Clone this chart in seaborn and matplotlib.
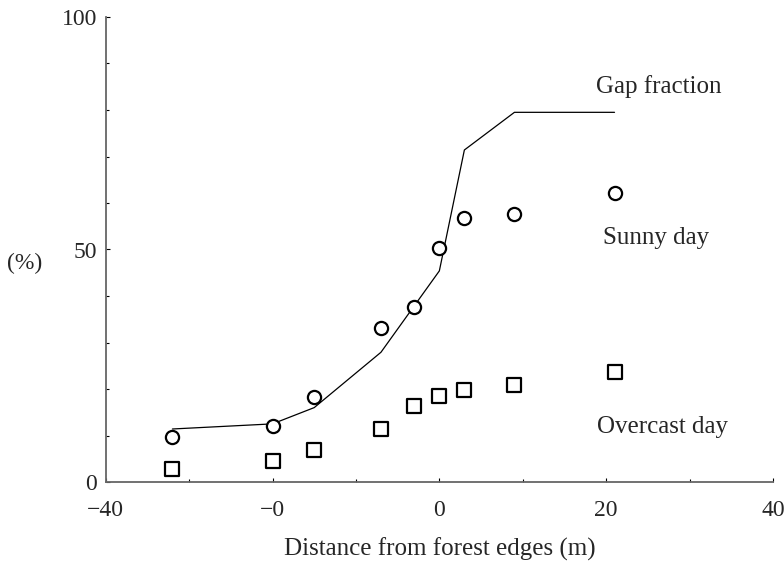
import matplotlib
matplotlib.use("Agg")
import matplotlib.pyplot as plt
import seaborn as sns
import pandas as pd
from matplotlib.ticker import MultipleLocator, FixedLocator, FixedFormatter

# ---- data ----
distance = [-32, -20, -15, -7, -3, 0, 3, 9, 21]
sunny_day = [9.7, 12.1, 18.3, 33.2, 37.7, 50.3, 56.7, 57.6, 62.1]
overcast_day = [2.9, 4.5, 6.8, 11.3, 16.3, 18.6, 19.8, 20.9, 23.7]
gap_distance = [-32, -20, -15, -7, 0, 3, 9, 21]
gap_fraction = [11.4, 12.5, 16.0, 27.9, 45.4, 71.4, 79.5, 79.5]
x_ticks = [-40, -20, 0, 20, 40]
x_tick_labels = ["\u221240", "\u22120", "0", "20", "40"]
y_ticks = [0, 50, 100]

sns.set_theme(style="ticks")
plt.rcParams["font.family"] = ["Liberation Serif", "DejaVu Serif"]

fig = plt.figure(figsize=(7.84, 5.65), dpi=100)
ax = fig.add_axes([105.7 / 784, 1 - 482 / 565, (773 - 105.7) / 784, (482 - 17) / 565])

pts = pd.DataFrame({"distance": distance, "sunny": sunny_day, "overcast": overcast_day})
gap = pd.DataFrame({"distance": gap_distance, "gap": gap_fraction})

sns.lineplot(data=gap, x="distance", y="gap", ax=ax, color="black", lw=0.9,
             sort=False, estimator=None)
sns.scatterplot(data=pts, x="distance", y="sunny", ax=ax, marker="o", s=90,
                facecolor="white", edgecolor="black", linewidth=1.6, zorder=3)
sns.scatterplot(data=pts, x="distance", y="overcast", ax=ax, marker="s", s=90,
                facecolor="white", edgecolor="black", linewidth=1.6, zorder=3)

ax.set_xlim(-40, 40)
ax.set_ylim(0, 100)
ax.xaxis.set_major_locator(FixedLocator(x_ticks))
ax.xaxis.set_major_formatter(FixedFormatter(x_tick_labels))
ax.xaxis.set_minor_locator(MultipleLocator(10))
ax.yaxis.set_major_locator(FixedLocator(y_ticks))
ax.yaxis.set_minor_locator(MultipleLocator(10))

sns.despine(ax=ax)
for side in ("left", "bottom"):
    ax.spines[side].set_color("#666666")
    ax.spines[side].set_linewidth(1.3)

ax.tick_params(axis="both", which="both", direction="in", color="black", width=0.8)
ax.tick_params(axis="both", which="major", length=3, labelsize=17)
ax.tick_params(axis="both", which="minor", length=2.5)
ax.tick_params(axis="x", which="major", pad=13)
ax.tick_params(axis="y", which="major", pad=6)

ax.set_xlabel("Distance from forest edges (m)", fontsize=18, labelpad=12)
ax.set_ylabel("")
fig.text(25 / 784, 1 - 263 / 565, "(%)", fontsize=17, ha="center", va="center")

ax.text(18.75, 85.0, "Gap fraction", fontsize=18, ha="left", va="center")
ax.text(19.6, 52.4, "Sunny day", fontsize=18, ha="left", va="center")
ax.text(18.9, 11.9, "Overcast day", fontsize=18, ha="left", va="center")

fig.savefig("out.png", dpi=100)
